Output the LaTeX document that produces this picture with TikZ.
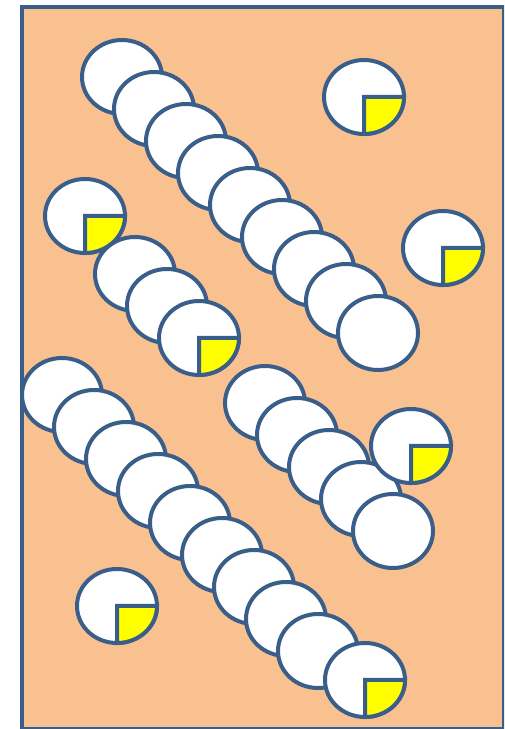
\documentclass[tikz,border=0pt]{standalone}
\usepackage{tikz}
\usetikzlibrary{positioning,shapes.geometric}

\definecolor{sand}{RGB}{249,192,144}
\definecolor{steel}{RGB}{58,94,138}
\definecolor{lemon}{RGB}{255,255,0}
\newcommand\yslice[1]{\draw[slice] (#1.center) -- (#1.east)
  arc[start angle=0, end angle=-90, x radius=40pt, y radius=37pt] -- cycle;}

\begin{document}
\begin{tikzpicture}[x=1pt, y=1pt, node distance=32pt and 32pt, on grid]
          \tikzset{ball/.style = {ellipse, draw=steel, fill=white, line width=4pt,
            minimum width=80pt, minimum height=74pt, inner sep=0pt, outer sep=0pt}}
          \tikzset{slice/.style = {draw=steel, fill=lemon, line width=4pt}}

          \clip (0,0) rectangle (504,729);
          \draw[draw=steel, fill=sand, line width=4pt] (21.5,0) rectangle (504,721.5);

          % loose ones
          \node[ball] (p1) at (364,632) {};
          \node[ball] (p2) at (443,481) {};
          \node[ball] (p3) at (85,513) {};
          \node[ball] (p5) at (117,123) {};
          \yslice{p1}
          \yslice{p2}
          \yslice{p3}
          \yslice{p5}

          % long row at the top
          \node[ball] (t1) at (122,652) {};
          \node[ball, below right=of t1] (t2) {};
          \node[ball, below right=of t2] (t3) {};
          \node[ball, below right=of t3] (t4) {};
          \node[ball, below right=of t4] (t5) {};
          \node[ball, below right=of t5] (t6) {};
          \node[ball, below right=of t6] (t7) {};
          \node[ball, below right=of t7] (t8) {};
          \node[ball, below right=of t8] (t9) {};

          % short row
          \node[ball] (m1) at (135,455) {};
          \node[ball, below right=of m1] (m2) {};
          \node[ball, below right=of m2] (m3) {};
          \yslice{m3}

          % long row at the bottom
          \node[ball] (l1) at (62,334) {};
          \node[ball, below right=of l1] (l2) {};
          \node[ball, below right=of l2] (l3) {};
          \node[ball, below right=of l3] (l4) {};
          \node[ball, below right=of l4] (l5) {};
          \node[ball, below right=of l5] (l6) {};
          \node[ball, below right=of l6] (l7) {};
          \node[ball, below right=of l7] (l8) {};
          \node[ball, below right=of l8] (l9) {};
          \node[ball, below right=29pt and 47pt of l9] (l10) {};
          \yslice{l10}

          % row on the right
          \node[ball] (r1) at (265,326) {};
          \node[ball, below right=of r1] (r2) {};
          \node[ball, below right=of r2] (r3) {};
          \node[ball, below right=of r3] (r4) {};
          \node[ball, below right=of r4] (r5) {};

          \node[ball] (p4) at (411,283) {};
          \yslice{p4}
        \end{tikzpicture}
\end{document}
